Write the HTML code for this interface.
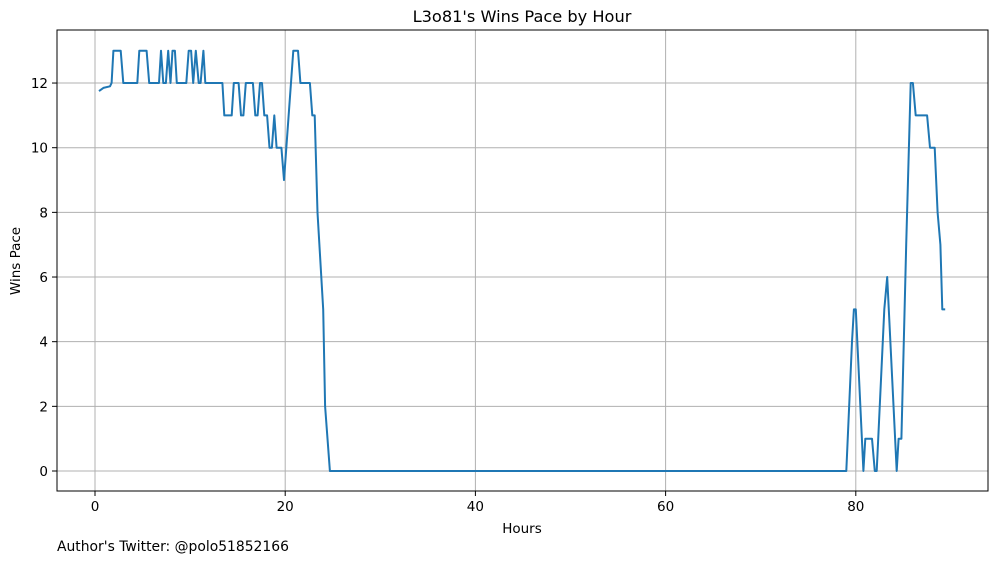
<!DOCTYPE html>
<html><head><meta charset="utf-8"><style>
body{margin:0;background:#fff;}
svg text{font-family:"DejaVu Sans","Liberation Sans",sans-serif;fill:#000;}
</style></head><body>
<svg id="chart" width="997" height="562" xmlns="http://www.w3.org/2000/svg">
<rect width="997" height="562" fill="#fff"/>
<g id="grid"></g>
<g id="ticks"></g>
<path id="line" fill="none" stroke="#1f77b4" stroke-width="2" stroke-linejoin="round"/>
<rect x="57" y="30" width="931" height="461" fill="none" stroke="#000" stroke-width="1"/>
<text x="522" y="22" text-anchor="middle" font-size="16.2">L3o81's Wins Pace by Hour</text>
<text x="522" y="533" text-anchor="middle" font-size="13.5">Hours</text>
<text transform="translate(20,261) rotate(-90)" text-anchor="middle" font-size="13.5">Wins Pace</text>
<text x="57" y="551" font-size="13.9">Author's Twitter: @polo51852166</text>
</svg>
<script>
const hours=[0.42,0.88,1.58,1.75,1.93,2.7,2.98,4.45,4.66,5.43,5.7,6.73,6.94,7.18,7.46,7.7,7.94,8.15,8.4,8.6,9.6,9.85,10.1,10.33,10.6,10.9,11.1,11.4,11.6,13.4,13.6,14.37,14.6,15.1,15.35,15.6,15.86,16.6,16.86,17.1,17.35,17.56,17.8,18.1,18.35,18.6,18.85,19.1,19.6,19.87,20.85,21.35,21.6,22.6,22.85,23.1,23.4,24.0,24.2,24.7,79.0,79.6,79.8,80.0,80.8,81.0,81.7,82.0,82.2,83.0,83.3,84.3,84.5,84.8,85.3,85.77,86.0,86.3,87.5,87.8,88.3,88.6,88.9,89.1,89.4];
const winsPace=[11.75,11.85,11.9,12,13,13,12,12,13,13,12,12,13,12,12,13,12,13,13,12,12,13,13,12,13,12,12,13,12,12,11,11,12,12,11,11,12,12,11,11,12,12,11,11,10,10,11,10,10,9,13,13,12,12,11,11,8,5,2,0,0,4,5,5,0,1,1,0,0,5,6,0,1,1,7,12,12,11,11,10,10,8,7,5,5];
const xTicks=[0,20,40,60,80];
const yTicks=[0,2,4,6,8,10,12];
const X=h=>95+h*9.51;
const Y=v=>471-v*32.33;
const ns="http://www.w3.org/2000/svg";
const grid=document.getElementById('grid'),ticks=document.getElementById('ticks');
function mk(tag,attrs,parent){const e=document.createElementNS(ns,tag);for(const k in attrs)e.setAttribute(k,attrs[k]);parent.appendChild(e);return e;}
xTicks.forEach(t=>{const x=X(t);
 const g=mk('line',{x1:x,x2:x,y1:30,y2:491,stroke:'#b0b0b0','stroke-width':1},grid);
 
 
 const tk=mk('line',{x1:x,x2:x,y1:491,y2:496,stroke:'#000'},ticks);
 
 
 const tx=mk('text',{x:x,y:511,'text-anchor':'middle','font-size':13.5},ticks);tx.textContent=t;
 
 
});
yTicks.forEach(t=>{const y=Y(t);
 const g=mk('line',{x1:57,x2:988,y1:y,y2:y,stroke:'#b0b0b0','stroke-width':1},grid);
 
 
 const tk=mk('line',{x1:52,x2:57,y1:y,y2:y,stroke:'#000'},ticks);
 
 
 const tx=mk('text',{x:48,y:y+5,'text-anchor':'end','font-size':13.5},ticks);tx.textContent=t;
 
 
});
document.getElementById('line').setAttribute('d',hours.map((h,i)=>(i?'L':'M')+X(h).toFixed(1)+','+Y(winsPace[i]).toFixed(1)).join(''));
</script>
</body></html>
